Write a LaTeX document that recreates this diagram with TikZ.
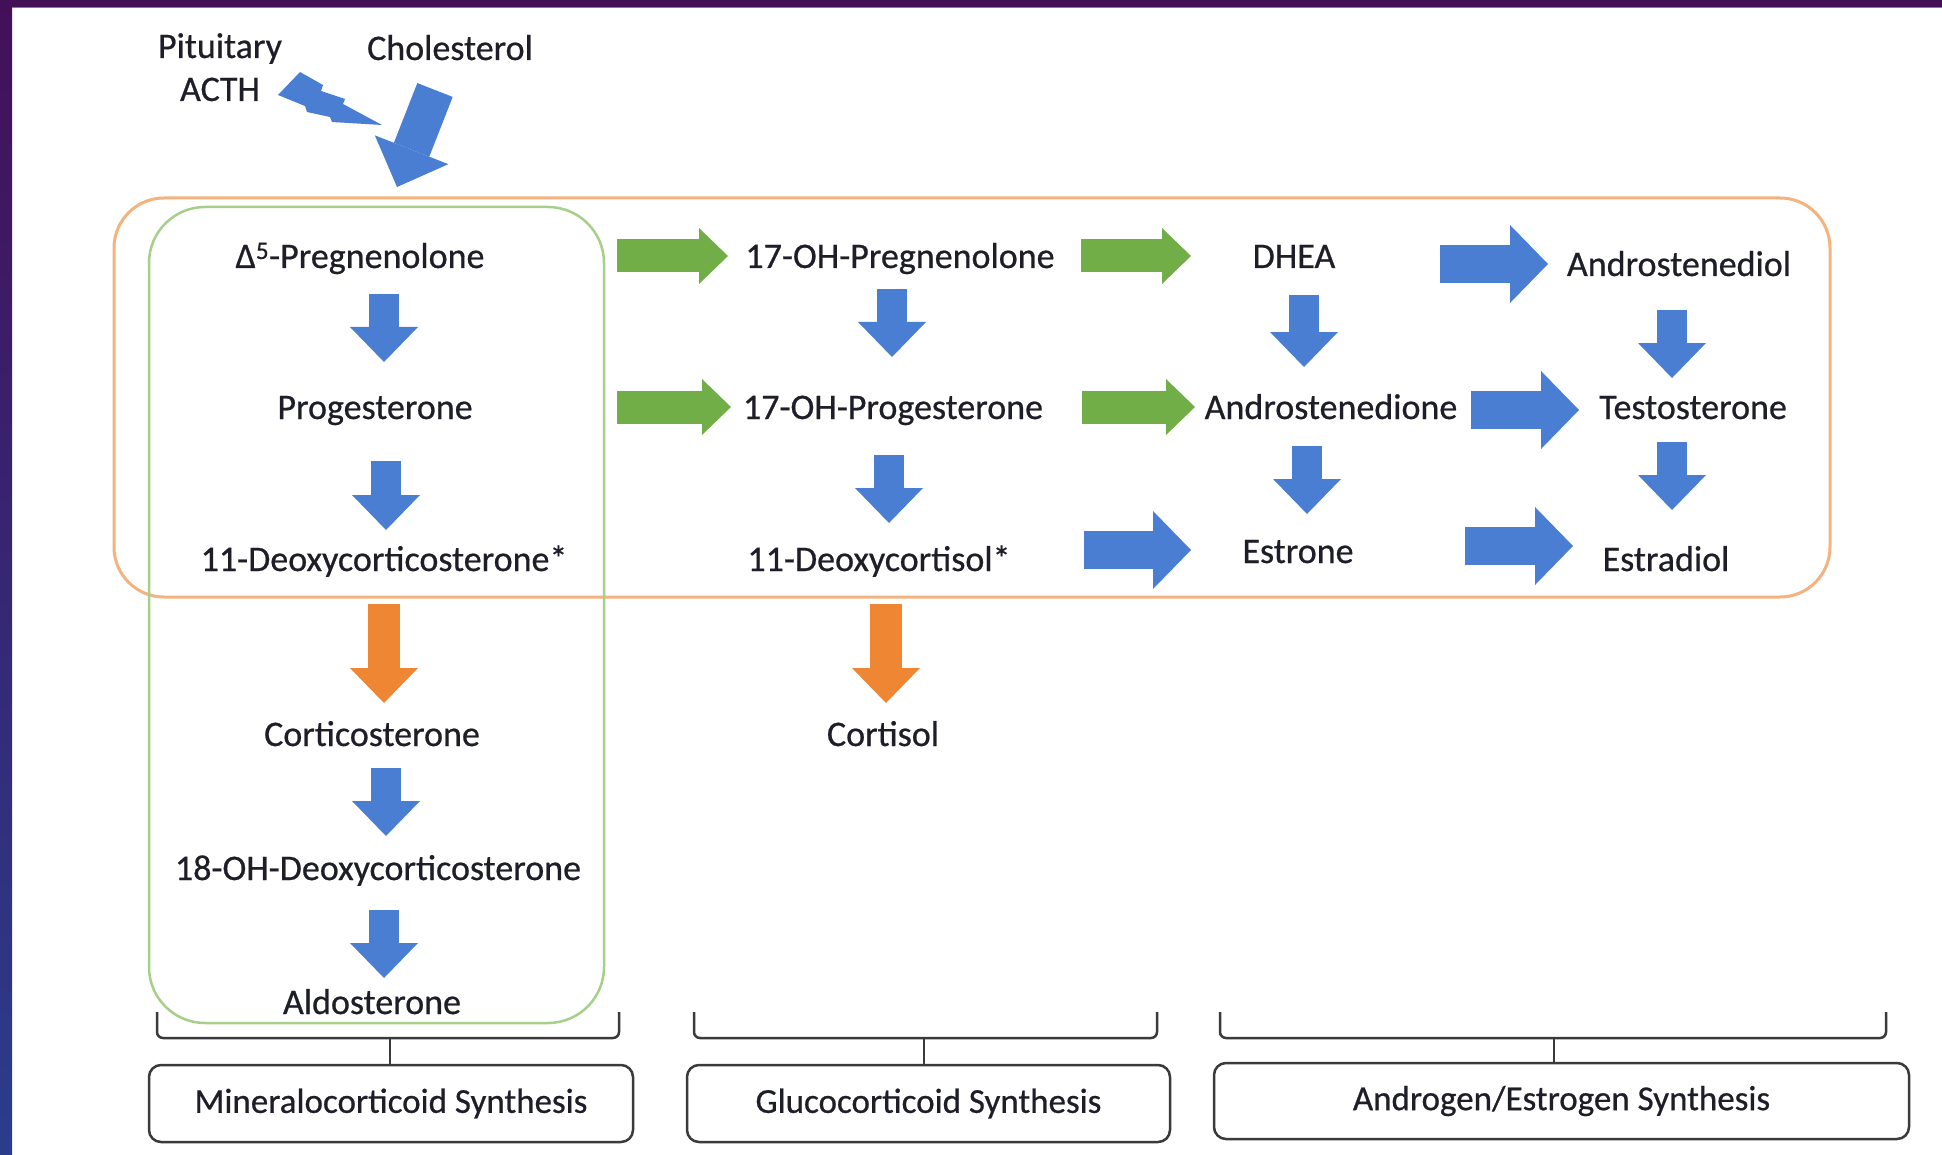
\documentclass[tikz,border=0pt]{standalone}
\usepackage{fontspec}
\setmainfont{Carlito}[FakeBold=0.6]
\usetikzlibrary{arrows.meta,calc}
\definecolor{cblue}{HTML}{4A7ED2}
\definecolor{cgreen}{HTML}{72AE48}
\definecolor{corange}{HTML}{EE8633}
\definecolor{rorange}{HTML}{F4B27F}
\definecolor{rgreen}{HTML}{A6CF8A}
\definecolor{bandpurple}{HTML}{431058}
\definecolor{bandblue}{HTML}{2A3D8C}
\definecolor{txt}{HTML}{1E1E28}
\definecolor{boxline}{HTML}{3A3A3A}
\begin{document}
\begin{tikzpicture}[x=1pt,y=-1pt,
  lbl/.style={font=\fontsize{36}{43}\selectfont, text=txt, inner sep=0pt, anchor=base},
  botbox/.style={draw=boxline, line width=2.5pt, rounded corners=12pt, fill=white,
    font=\fontsize{35}{42}\selectfont, text=txt, inner sep=0pt},
  brk/.style={draw=boxline, line width=2.5pt, rounded corners=6pt},
  dnblue/.style={draw=cblue, line width=30pt, -{Triangle[width=68pt,length=35pt,line width=0pt]}},
  dnorange/.style={draw=corange, line width=32pt, -{Triangle[width=68pt,length=35pt,line width=0pt]}},
  rtgreen/.style={draw=cgreen, line width=33pt, -{Triangle[width=56pt,length=29pt,line width=0pt]}},
  rtblue/.style={draw=cblue, line width=38pt, -{Triangle[width=78pt,length=38pt,line width=0pt]}},
  cholarr/.style={draw=cblue, line width=38pt, -{Triangle[width=79pt,length=40pt,line width=0pt]}}
]
\useasboundingbox (0,0) rectangle (1942,1155);
% background
\fill[white] (0,0) rectangle (1942,1155);
\shade[top color=bandpurple, bottom color=bandblue] (0,0) rectangle (12,1155);
\fill[bandpurple] (0,0) rectangle (1942,7);
\draw[gray, line width=1pt] (12,7.5) -- (1942,7.5);

% group outlines
\draw[rorange, line width=3pt, rounded corners=50pt] (114,198) rectangle (1830,597);
\draw[rgreen, line width=2.5pt, rounded corners=56pt] (149,207) rectangle (604,1023);

% labels
\node[lbl] (pit) at (220,58) {Pituitary};
\node[lbl] (acth) at (220,101) {ACTH};
\node[lbl] (chol) at (450,60) {Cholesterol};

\node[lbl] (preg) at (360,268) {Δ\textsuperscript{5}-Pregnenolone};
\node[lbl] (ohpreg) at (900,268) {17-OH-Pregnenolone};
\node[lbl] (dhea) at (1294,268) {DHEA};
\node[lbl] (adiol) at (1679,276) {Androstenediol};

\node[lbl] (prog) at (375,419) {Progesterone};
\node[lbl] (ohprog) at (893,419) {17-OH-Progesterone};
\node[lbl] (adione) at (1331,419) {Androstenedione};
\node[lbl] (testo) at (1693,419) {Testosterone};

\node[lbl] (doc) at (384,571) {11-Deoxycorticosterone*};
\node[lbl] (dcort) at (879,571) {11-Deoxycortisol*};
\node[lbl] (estrone) at (1298,563) {Estrone};
\node[lbl] (estradiol) at (1666,571) {Estradiol};

\node[lbl] (cortico) at (372,746) {Corticosterone};
\node[lbl] (cortisol) at (883,746) {Cortisol};
\node[lbl] (ohdoc) at (378,880) {18-OH-Deoxycorticosterone};
\node[lbl] (aldo) at (372,1014) {Aldosterone};

% ACTH lightning and cholesterol arrow
\coordinate (boltstart) at (278,95);
\fill[cblue] (boltstart) -- (300,72) -- (323,85) -- (321,91) -- (345,99) -- (343,104)
  -- (382,125) -- (332,122) -- (330,117) -- (307,112) -- (305,106) -- cycle;
\coordinate (cholS) at (435,90);
\coordinate (cholE) at (397,187);
\draw[cholarr] (cholS) -- (cholE);

% arrows
\newcommand\blockarr[4]{\coordinate (#2s) at #3; \coordinate (#2e) at #4; \draw[#1] (#2s) -- (#2e);}
\blockarr{dnblue}{a1}{(384,294)}{(384,362)}
\blockarr{dnblue}{a2}{(386,461)}{(386,530)}
\blockarr{dnorange}{o1}{(384,604)}{(384,703)}
\blockarr{dnblue}{a3}{(386,768)}{(386,836)}
\blockarr{dnblue}{a4}{(384,910)}{(384,978)}
\blockarr{dnblue}{a5}{(892,289)}{(892,357)}
\blockarr{dnblue}{a6}{(889,455)}{(889,523)}
\blockarr{dnorange}{o2}{(886,604)}{(886,703)}
\blockarr{dnblue}{a7}{(1304,295)}{(1304,367)}
\blockarr{dnblue}{a8}{(1307,446)}{(1307,514)}
\blockarr{dnblue}{a9}{(1672,310)}{(1672,378)}
\blockarr{dnblue}{a10}{(1672,442)}{(1672,510)}
\blockarr{rtgreen}{g1}{(617,256)}{(728,256)}
\blockarr{rtgreen}{g2}{(617,407)}{(731,407)}
\blockarr{rtgreen}{g3}{(1081,256)}{(1191,256)}
\blockarr{rtgreen}{g4}{(1082,407)}{(1195,407)}
\blockarr{rtblue}{b1}{(1440,264)}{(1548,264)}
\blockarr{rtblue}{b2}{(1471,410)}{(1579,410)}
\blockarr{rtblue}{b3}{(1084,550)}{(1191,550)}
\blockarr{rtblue}{b4}{(1465,546)}{(1573,546)}

% bottom boxes and brackets
\node[botbox, minimum width=484pt, minimum height=77pt] (mbox) at (391,1103.5) {Mineralocorticoid Synthesis};
\node[botbox, minimum width=483pt, minimum height=77pt] (gbox) at (928.5,1103.5) {Glucocorticoid Synthesis};
\node[botbox, minimum width=695pt, minimum height=76pt] (abox) at (1561.5,1101) {Androgen/Estrogen Synthesis};

\draw[brk] (157,1012) |- (619,1038) -- (619,1012);
\draw[brk] (694,1012) |- (1157,1038) -- (1157,1012);
\draw[brk] (1220,1012) |- (1886,1038) -- (1886,1012);
\coordinate (m1) at (390,1038);
\coordinate (m2) at (924,1038);
\coordinate (m3) at (1554,1038);
\draw[boxline, line width=2.5pt] (m1) -- (m1 |- mbox.north);
\draw[boxline, line width=2.5pt] (m2) -- (m2 |- gbox.north);
\draw[boxline, line width=2.5pt] (m3) -- (m3 |- abox.north);
\end{tikzpicture}
\end{document}
